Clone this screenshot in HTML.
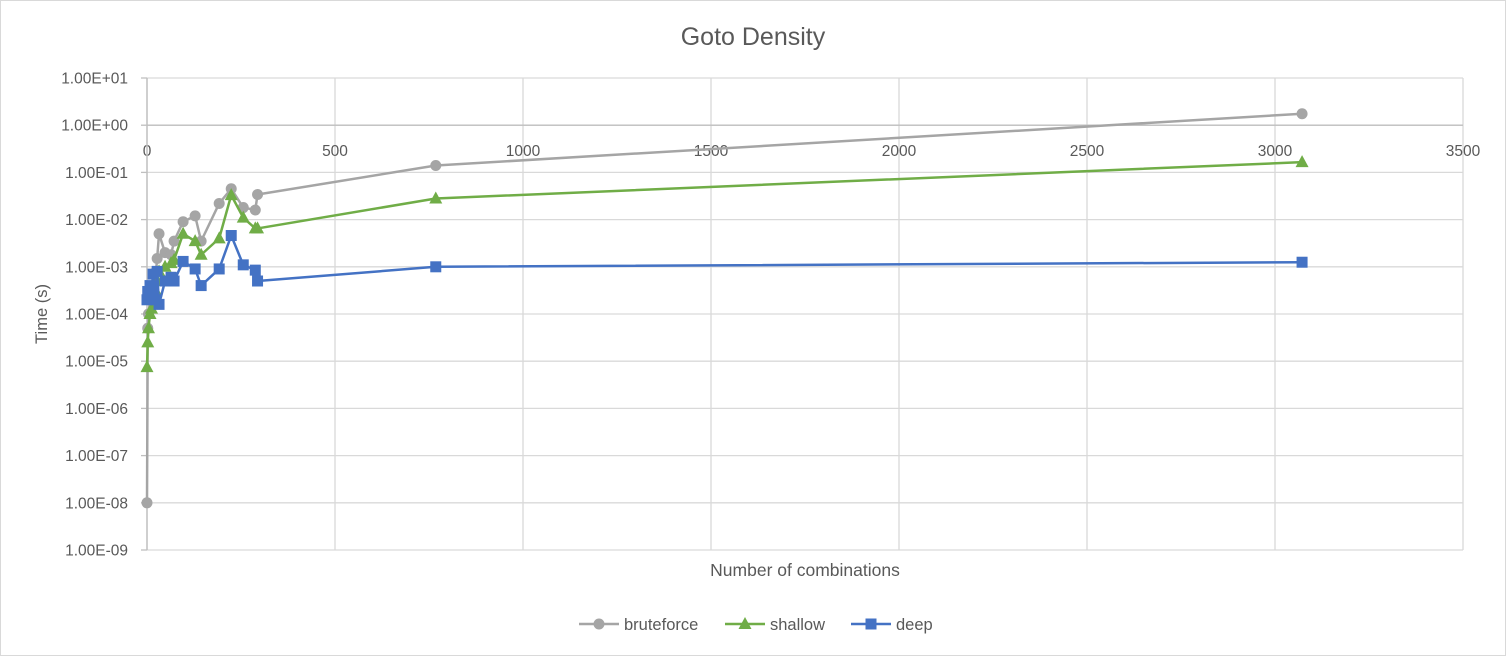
<!DOCTYPE html>
<html><head><meta charset="utf-8"><style>
body{margin:0;background:#fff;font-family:"Liberation Sans",sans-serif}
svg{display:block}
</style></head><body>
<svg id="c" width="1506" height="656" xmlns="http://www.w3.org/2000/svg">
<rect x="0.5" y="0.5" width="1505" height="655" fill="#fff" stroke="#d9d9d9"/>
<text x="753" y="45" text-anchor="middle" font-size="25" fill="#595959">Goto Density</text>
<g id="grid"></g><g id="series"></g>
<text transform="translate(47,314) rotate(-90)" text-anchor="middle" font-size="16.5" fill="#595959">Time (s)</text>
<text x="805" y="576" text-anchor="middle" font-size="17.5" fill="#595959">Number of combinations</text>
<g id="legend"></g>
</svg>
<script>
const xVals=[0,2,4,8,12,16,24,27,32,48,64,72,96,128,144,192,224,256,288,294,768,3072];
const bruteforce=[1e-8,5e-5,1e-4,2e-4,3e-4,4e-4,8e-4,1.5e-3,5e-3,2e-3,1.8e-3,3.5e-3,9e-3,1.2e-2,3.5e-3,2.2e-2,4.5e-2,1.8e-2,1.6e-2,3.4e-2,0.14,1.75];
const shallow=[7.5e-6,2.5e-5,5e-5,1e-4,1.3e-4,2e-4,3e-4,5e-4,8e-4,1e-3,1.2e-3,1.4e-3,5e-3,3.5e-3,1.8e-3,4e-3,3.3e-2,1.1e-2,6.5e-3,6.5e-3,2.8e-2,0.165];
const deep=[2e-4,3e-4,2.5e-4,4e-4,3e-4,7e-4,2e-4,8e-4,1.6e-4,5e-4,6e-4,5e-4,1.3e-3,9e-4,4e-4,9e-4,4.6e-3,1.1e-3,8.5e-4,5e-4,1e-3,1.25e-3];
const xTicks=[0,500,1000,1500,2000,2500,3000,3500];
const yTickExps=[1,0,-1,-2,-3,-4,-5,-6,-7,-8,-9];
const yLabels=["1.00E+01","1.00E+00","1.00E-01","1.00E-02","1.00E-03","1.00E-04","1.00E-05","1.00E-06","1.00E-07","1.00E-08","1.00E-09"];
const NS="http://www.w3.org/2000/svg";
const X0=147,X1=1463,Y0=78,Y1=550;
const sx=v=>X0+v/3500*(X1-X0);
const sy=v=>Y0+(1-Math.log10(v))/10*(Y1-Y0);
function mk(t,a,p){const e=document.createElementNS(NS,t);for(const k in a)e.setAttribute(k,a[k]);(p||document.getElementById('c')).appendChild(e);return e;}
const grid=document.getElementById('grid');
yTickExps.forEach((ex,i)=>{const y=sy(Math.pow(10,ex));
 const l=mk('line',{x1:X0,x2:X1,y1:y,y2:y,stroke:'#d9d9d9','stroke-width':1.3},grid);
 
 
 const tk=mk('line',{x1:X0-6,x2:X0,y1:y,y2:y,stroke:'#bfbfbf','stroke-width':1.3},grid);
 
 
 const t=mk('text',{x:128,y:y+5.5,'text-anchor':'end','font-size':15.5,fill:'#595959'},grid);t.textContent=yLabels[i];
 
 
});
xTicks.forEach(v=>{const x=sx(v);
 if(v>0){const l=mk('line',{x1:x,x2:x,y1:Y0,y2:Y1,stroke:'#d9d9d9','stroke-width':1.3},grid);
 
 }
 const t=mk('text',{x:x,y:156,'text-anchor':'middle','font-size':15.5,fill:'#595959'},grid);t.textContent=v;
 
 
});
const ax=mk('line',{x1:X0,x2:X1,y1:sy(1),y2:sy(1),stroke:'#bfbfbf','stroke-width':1.3},grid);


const ay=mk('line',{x1:X0,x2:X0,y1:Y0,y2:Y1,stroke:'#bfbfbf','stroke-width':1.5},grid);


function marker(shape,x,y,col,p){
 if(shape==='circle')return mk('circle',{cx:x,cy:y,r:5.5,fill:col},p);
 if(shape==='tri')return mk('polygon',{points:`${x},${y-7} ${x-6.5},${y+5} ${x+6.5},${y+5}`,fill:col},p);
 return mk('rect',{x:x-5.5,y:y-5.5,width:11,height:11,fill:col},p);
}
const ser=[['bruteforce',bruteforce,'#a5a5a5','circle'],['shallow',shallow,'#70ad47','tri'],['deep',deep,'#4472c4','sq']];
const sg=document.getElementById('series');
ser.forEach(([name,vals,col,shape])=>{
 const g=mk('g',{},sg);
 
 
 const pts=vals.map((v,i)=>sx(xVals[i])+','+sy(v)).join(' ');
 const pl=mk('polyline',{points:pts,fill:'none',stroke:col,'stroke-width':2.5,'stroke-linejoin':'round'},g);
 
 
 vals.forEach((v,i)=>{const m=marker(shape,sx(xVals[i]),sy(v),col,g);
  
  });
});
const lg=document.getElementById('legend');
[['bruteforce',579,'#a5a5a5','circle'],['shallow',725,'#70ad47','tri'],['deep',851,'#4472c4','sq']].forEach(([n,x,col,shape])=>{
 const g=mk('g',{},lg);
 
 
 mk('line',{x1:x,x2:x+40,y1:624,y2:624,stroke:col,'stroke-width':2.5},g);
 marker(shape,x+20,624,col,g);
 const t=mk('text',{x:x+45,y:630,'font-size':16.5,fill:'#595959'},g);t.textContent=n;
});
</script>
</body></html>
